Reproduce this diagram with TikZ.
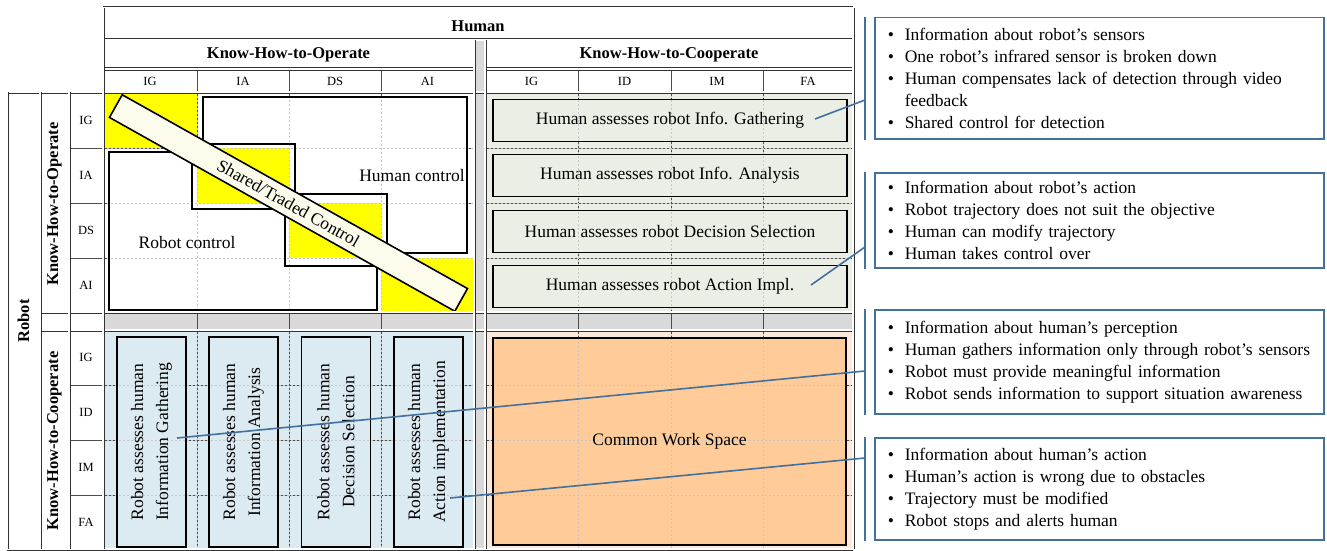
\documentclass[tikz,border=0pt]{standalone}
\usepackage{fontspec}
\setmainfont{Liberation Serif}

\definecolor{opyellow}{RGB}{255,255,0}
\definecolor{coopgreen}{RGB}{235,238,228}
\definecolor{robblue}{RGB}{220,234,242}
\definecolor{wspeach}{RGB}{253,233,217}
\definecolor{wsorange}{RGB}{255,204,153}
\definecolor{bandgray}{RGB}{217,217,217}
\definecolor{bandfill}{RGB}{253,252,236}
\definecolor{callblue}{RGB}{65,113,156}

\newcommand{\fbig}{\fontsize{17.5}{22}\selectfont}
\newcommand{\fvert}{\fontsize{17.5}{25}\selectfont}
\newcommand{\fhdr}{\fontsize{16.5}{20}\selectfont\bfseries}
\newcommand{\fsml}{\fontsize{12.5}{14}\selectfont}
\newcommand{\bul}{\makebox[17pt][l]{\textbullet}}

\pgfdeclarelayer{back}
\pgfsetlayers{back,main}

\tikzset{
  dbl/.style={draw=black!80, line width=0.9pt, double=white, double distance=1.2pt},
  gridln/.style={draw=black!70, line width=0.5pt},
  dashln/.style={draw=black!22, line width=0.4pt, dash pattern=on 2pt off 2pt},
  thickln/.style={draw=black, line width=1.6pt},
  hdr/.style={font=\fhdr, inner sep=0pt},
  lbl/.style={font=\fsml, inner sep=0pt},
  txt/.style={font=\fbig, inner sep=0pt},
  hbox/.style={thickln, minimum width=354pt, minimum height=42pt, inner sep=0pt, font=\fbig},
  rbox/.style={thickln, minimum width=210pt, minimum height=69pt, inner sep=0pt, font=\fvert, align=center, rotate=90},
  wsbox/.style={thickln, minimum width=353pt, minimum height=207pt, font=\fbig},
  band/.style={thickln, fill=bandfill, minimum width=396pt, minimum height=26pt, inner sep=0pt, rotate=-29.3, font=\fbig},
  callout/.style={draw=callblue, line width=1.5pt, anchor=north west, text width=423pt, inner xsep=13pt, inner ysep=0pt, align=left, font=\fbig},
  callln/.style={draw=callblue, line width=1.6pt},
}

\begin{document}
\begin{tikzpicture}[x=1pt, y=-1pt]
  \useasboundingbox (0,0) rectangle (1327,551);

  % quadrant fills
  \begin{pgfonlayer}{back}
    \fill[bandgray] (474,40) rectangle (485,549);
    \fill[bandgray] (103,312) rectangle (853,330);
    \fill[coopgreen] (485,92) rectangle (853,312);
    \fill[robblue] (103,330) rectangle (474,549);
    \fill[wspeach] (485,330) rectangle (853,549);
    \foreach \x in {197,289,381,578,671,763}
      \draw[gridln] (\x,69) -- (\x,549);
    \foreach \y in {148,203,258,385,440,495} {
      \draw[gridln] (69,\y) -- (474,\y);
      \draw[gridln] (485,\y) -- (853,\y);
    }
  \end{pgfonlayer}

  % operate / operate
  \fill[white] (203,97) -- (467,97) -- (467,253) -- (387,253) -- (387,194)
    -- (295,194) -- (295,144) -- (203,144) -- cycle;
  \fill[white] (109,152) -- (192,152) -- (192,209) -- (285,209) -- (285,266)
    -- (377,266) -- (377,310) -- (109,310) -- cycle;
  \fill[white] (192,144) rectangle (295,209);
  \fill[white] (285,194) rectangle (387,266);
  \fill[opyellow] (103,92) rectangle (197,148);
  \fill[opyellow] (197,148) rectangle (289,203);
  \fill[opyellow] (289,203) rectangle (381,258);
  \fill[opyellow] (381,258) rectangle (474,312);
  \foreach \x in {197,289,381}
    \draw[dashln] (\x,92) -- (\x,312);
  \foreach \y in {148,203,258}
    \draw[dashln] (103,\y) -- (474,\y);
  \draw[thickln] (203,97) -- (467,97) -- (467,253) -- (387,253) -- (387,194)
    -- (295,194) -- (295,144) -- (203,144) -- cycle;
  \draw[thickln] (109,152) -- (192,152) -- (192,209) -- (285,209) -- (285,266)
    -- (377,266) -- (377,310) -- (109,310) -- cycle;
  \draw[thickln] (192,144) rectangle (295,209);
  \draw[thickln] (285,194) rectangle (387,266);
  \node[band] (shared) at (288.5,203) {Shared/Traded Control};
  \node[txt] (hctl) at (412,176) {Human control};
  \node[txt] (rctl) at (187,243) {Robot control};

  % human assesses robot
  \node[hbox] (ha1) at (670,120.5) {Human assesses robot Info. Gathering};
  \node[hbox] (ha2) at (670,175.5) {Human assesses robot Info. Analysis};
  \node[hbox] (ha3) at (670,231.5) {Human assesses robot Decision Selection};
  \node[hbox] (ha4) at (670,286.5) {Human assesses robot Action Impl.};

  % robot assesses human
  \node[rbox] (ra1) at (151.5,442) {Robot assesses human\\Information Gathering};
  \node[rbox] (ra2) at (243.5,442) {Robot assesses human\\Information Analysis};
  \node[rbox] (ra3) at (336,442) {Robot assesses human\\Decision Selection};
  \node[rbox] (ra4) at (428.5,442) {Robot assesses human\\Action implementation};

  \node[wsbox] (cws) at (669.5,441.5) {Common Work Space};

  \begin{pgfonlayer}{back}
    \foreach \n in {ha1,ha2,ha3,ha4}
      \fill[coopgreen] (\n.north west) rectangle (\n.south east);
    \foreach \n in {ra1,ra2,ra3,ra4}
      \fill[robblue] (\n.north west) rectangle (\n.south east);
    \fill[wsorange] (cws.north west) rectangle (cws.south east);
    \foreach \x in {578,671,763}
      \draw[dashln] (\x,92) -- (\x,312) (\x,330) -- (\x,549);
    \foreach \x in {197,289,381}
      \draw[dashln] (\x,330) -- (\x,549);
    \foreach \y in {148,203,258}
      \draw[dashln] (485,\y) -- (853,\y);
    \foreach \y in {385,440,495}
      \draw[dashln] (103,\y) -- (474,\y) (485,\y) -- (853,\y);
  \end{pgfonlayer}

  % frame
  \draw[dbl] (103,8) -- (853,8);
  \draw[dbl] (103,40) -- (853,40);
  \draw[dbl] (103,69) -- (474,69) (485,69) -- (853,69);
  \draw[dbl] (7,92) -- (853,92);
  \draw[dbl] (40,312) -- (853,312) (40,330) -- (853,330);
  \draw[dbl] (7,549) -- (853,549);
  \draw[dbl] (103,8) -- (103,549) (853,8) -- (853,549);
  \draw[dbl] (474,40) -- (474,549) (485,40) -- (485,549);
  \draw[dbl] (7,92) -- (7,549) (40,92) -- (40,549) (69,92) -- (69,549);

  % headers
  \node[hdr] (human) at (478,26) {Human};
  \node[hdr] (kop) at (288.5,55) {Know-How-to-Operate};
  \node[hdr] (kco) at (669,55) {Know-How-to-Cooperate};
  \foreach \x/\t [count=\i] in {150/IG,243/IA,335/DS,427.5/AI}
    \node[lbl] (oc\i) at (\x,81) {\t};
  \foreach \x/\t [count=\i] in {531.5/IG,624.5/ID,717/IM,808/FA}
    \node[lbl] (cc\i) at (\x,81) {\t};
  \foreach \y/\t [count=\i] in {120/IG,175.5/IA,230.5/DS,285/AI}
    \node[lbl] (or\i) at (86,\y) {\t};
  \foreach \y/\t [count=\i] in {357.5/IG,412.5/ID,467.5/IM,522/FA}
    \node[lbl] (cr\i) at (86,\y) {\t};
  \node[hdr, rotate=90] (robot) at (23.5,321) {Robot};
  \node[hdr, rotate=90] (vop) at (54.5,204) {Know-How-to-Operate};
  \node[hdr, rotate=90] (vco) at (54.5,441) {Know-How-to-Cooperate};

  % callouts
  \node[callout, minimum height=121pt] (cb1) at (874,17) {%
    \bul Information about robot’s sensors\\
    \bul One robot’s infrared sensor is broken down\\
    \bul Human compensates lack of detection through video\\
    \hspace*{17pt}feedback\\
    \bul Shared control for detection};
  \node[callout, minimum height=95pt] (cb2) at (874,172) {%
    \bul Information about robot’s action\\
    \bul Robot trajectory does not suit the objective\\
    \bul Human can modify trajectory\\
    \bul Human takes control over};
  \node[callout, minimum height=104pt] (cb3) at (874,309) {%
    \bul Information about human’s perception\\
    \bul Human gathers information only through robot’s sensors\\
    \bul Robot must provide meaningful information\\
    \bul Robot sends information to support situation awareness};
  \node[callout, minimum height=102pt] (cb4) at (874,437) {%
    \bul Information about human’s action\\
    \bul Human’s action is wrong due to obstacles\\
    \bul Trajectory must be modified\\
    \bul Robot stops and alerts human};
  \foreach \c in {cb1,cb2,cb3,cb4}
    \draw[callln] ([xshift=-9pt]\c.north west) -- ([xshift=-9pt]\c.south west);

  \coordinate (s1) at (815,119);
  \coordinate (e1) at (865,100);
  \coordinate (s2) at (811,285);
  \coordinate (e2) at (865,247);
  \coordinate (s3) at (177,438);
  \coordinate (e3) at (865,371);
  \coordinate (s4) at (450,498);
  \coordinate (e4) at (865,458);
  \draw[callln] (s1) -- (e1);
  \draw[callln] (s2) -- (e2);
  \draw[callln] (s3) -- (e3);
  \draw[callln] (s4) -- (e4);
\end{tikzpicture}
\end{document}
